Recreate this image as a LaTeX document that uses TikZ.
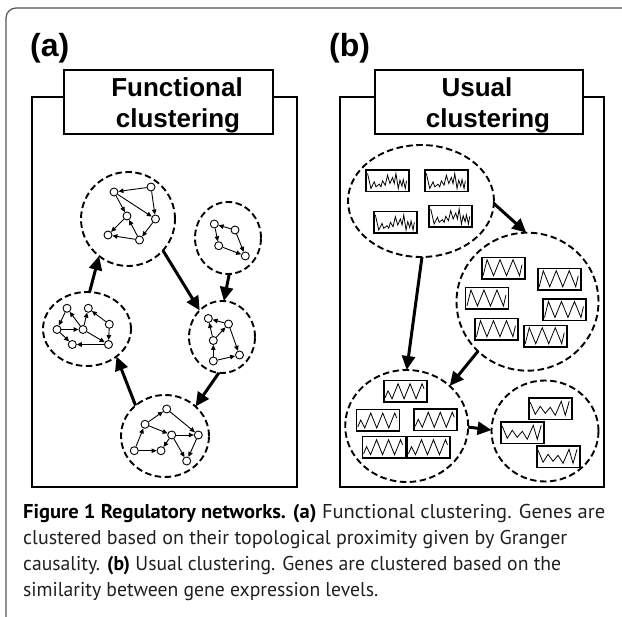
\documentclass[tikz,border=0pt]{standalone}
\usepackage{fontspec}
\usepackage{graphicx}
\usetikzlibrary{arrows.meta,shapes.geometric}
\newfontfamily\hfont{Liberation Sans}
\newfontfamily\capfont{PT Sans}
\newlength\capw
\AtBeginDocument{%
  \settowidth{\capw}{\capfont\fontsize{20pt}{24pt}\selectfont clustered based on their topological proximity given by Granger}%
  \pgfmathsetmacro\capfstmp{20*544/\capw}%
  \xdef\capfs{\capfstmp}%
}
\newcommand\capline[2]{\resizebox{#1}{\height}{#2}}
\definecolor{framegray}{HTML}{555555}
\definecolor{captext}{HTML}{231F20}
\tikzset{
  cl/.style={ellipse, draw, line width=1.9pt, dash pattern=on 6.5pt off 3.5pt, inner sep=0pt, outer sep=0pt},
  gn/.style={circle, draw, fill=white, inner sep=0pt, minimum size=8pt, line width=0.9pt},
  sm/.style={line width=0.9pt, -{Triangle[length=5pt,width=4.5pt]}},
  big/.style={line width=3pt, -{Triangle[length=14pt,width=13pt]}},
  gbox/.style={draw, fill=white, line width=1.5pt, minimum width=43pt, minimum height=21.5pt, inner sep=0pt},
  sig/.style={line width=0.8pt, line join=miter},
  panel/.style={draw, line width=2pt},
  titlebox/.style={draw, fill=white, line width=2pt},
  ttl/.style={anchor=base, inner sep=0pt, font=\hfont\bfseries\fontsize{26pt}{30pt}\selectfont},
  lbl/.style={anchor=base west, inner sep=0pt, font=\hfont\bfseries\fontsize{32pt}{36pt}\selectfont},
  captxt/.style={anchor=base west, inner sep=0pt, text=captext, font=\capfont\fontsize{\capfs pt}{\capfs pt}\selectfont},
  noisy/.pic={\draw[sig] (2.3,4)--(5.7,19)--(9,12.3)--(10.7,17.3)--(14,14.7)--(15.7,17.3)--(17.3,11.3)--(20,15.7)--(22.3,5.7)--(24.7,14)--(27.3,8)--(29,14)--(30.7,4)--(33,19)--(34.7,10.7)--(36.7,16.7)--(38,10)--(40,19)--(41.3,11.3);},
  zigb/.pic={\draw[sig] (2,19)--(6,3)--(12.5,19)--(19,3)--(25.5,19)--(32,3)--(38.5,19)--(41,8);},
  zigc/.pic={\draw[sig] (2,18)--(5,11)--(9,19)--(15,4)--(21,19)--(27,4)--(33,19)--(39,4)--(41,9);},
  zigd/.pic={\draw[sig] (2,5)--(7,17)--(12,9)--(17,16)--(22,10)--(27,18)--(33,4)--(37,18)--(41,4);}
}
\begin{document}
\begin{tikzpicture}[x=1pt,y=-1pt]
\useasboundingbox (0,0) rectangle (622,617);
\fill[white] (0,0) rectangle (622,617);
% outer frame
\draw[framegray, line width=1.2pt, rounded corners=10pt] (6,640) -- (6,8) -- (640,8);

% ---------- panel (a) ----------
\node[lbl] (la) at (30,56.7) {(a)};
\draw[panel] (32,97) rectangle (297,487);
\draw[titlebox] (64,70) rectangle (273,134);
\node[ttl] (ta1) at (177,96.7) {Functional};
\node[ttl] (ta2) at (178,127.3) {clustering};

% clusters
\node[cl, minimum width=94pt, minimum height=94pt] (A1) at (128,219) {};
\node[cl, minimum width=66pt, minimum height=72pt] (A2) at (228,238) {};
\node[cl, minimum width=66pt, minimum height=72pt] (A3) at (222,337) {};
\node[cl, minimum width=88pt, minimum height=74pt] (A4) at (87,329) {};
\node[cl, minimum width=88pt, minimum height=82pt] (A5) at (165,436) {};

% A1 graph
\node[gn] (n1) at (114,192) {};
\node[gn] (n2) at (151,187) {};
\node[gn] (n3) at (155.5,219) {};
\node[gn] (n4) at (127,216) {};
\node[gn] (n5) at (108,235) {};
\node[gn] (n6) at (139.5,240) {};
\draw[sm] (n2) -- (n1);
\draw[sm] (n2) -- (n3);
\draw[sm] (n1) -- (n3);
\draw[sm] (n1) -- (n4);
\draw[sm] (n4) -- (n5);
\draw[sm] (n6) -- (n5);
\draw[sm] (n6) -- (n4);
\draw[sm] (n3) -- (n6);

% A2 graph
\node[gn] (m1) at (214.3,224) {};
\node[gn] (m2) at (235,230) {};
\node[gn] (m3) at (218.7,245.7) {};
\node[gn] (m4) at (245.3,256) {};
\draw[sm] (m2) -- (m1);
\draw[sm] (m1) -- (m3);
\draw[sm] (m3) -- (m4);
\draw[sm] (m2) -- (m4);

% A3 graph
\node[gn] (p1) at (208.3,318.5) {};
\node[gn] (p2) at (228.5,324) {};
\node[gn] (p3) at (213.3,340.5) {};
\node[gn] (p4) at (239.5,355) {};
\node[gn] (p5) at (213.3,361) {};
\draw[sm] (p2) -- (p1);
\draw[sm] (p3) -- (p1);
\draw[sm] (p3) -- (p2);
\draw[sm] (p5) -- (p3);
\draw[sm] (p5) -- (p4);
\draw[sm] (p2) -- (p4);

% A4 graph
\node[gn] (q1) at (67,308.3) {};
\node[gn] (q2) at (88.3,308.3) {};
\node[gn] (q3) at (57,329.5) {};
\node[gn] (q4) at (83,329.5) {};
\node[gn] (q5) at (109.3,324.3) {};
\node[gn] (q6) at (72.3,344.5) {};
\node[gn] (q7) at (108.5,344.5) {};
\draw[sm] (q1) -- (q3);
\draw[sm] (q3) -- (q4);
\draw[sm] (q4) -- (q1);
\draw[sm] (q4) -- (q2);
\draw[sm] (q5) -- (q2);
\draw[sm] (q5) -- (q7);
\draw[sm] (q4) -- (q7);
\draw[sm] (q3) -- (q6);
\draw[sm] (q7) -- (q6);

% A5 graph
\node[gn] (r1) at (166.7,409) {};
\node[gn] (r2) at (145,424.3) {};
\node[gn] (r3) at (171.7,435) {};
\node[gn] (r4) at (198.3,435) {};
\node[gn] (r5) at (134.3,450.7) {};
\node[gn] (r6) at (161,450.7) {};
\node[gn] (r7) at (186.7,461) {};
\draw[sm] (r2) -- (r1);
\draw[sm] (r1) -- (r4);
\draw[sm] (r2) -- (r3);
\draw[sm] (r5) -- (r2);
\draw[sm] (r5) -- (r6);
\draw[sm] (r3) -- (r6);
\draw[sm] (r3) -- (r4);
\draw[sm] (r3) -- (r7);
\draw[sm] (r4) -- (r7);

% big arrows (a)
\draw[big] (A4.86) -- (A1.232);
\draw[big] (A1.318) -- (A3.130);
\draw[big] (A2.272) -- (A3.87);
\draw[big] (A3.265) -- (A5.44);
\draw[big] (A5.134) -- (A4.317);

% ---------- panel (b) ----------
\node[lbl] (lb) at (329,56.7) {(b)};
\draw[panel] (340,97) rectangle (604,487);
\draw[titlebox] (375,70) rectangle (583,134);
\node[ttl] (tb1) at (477,96.7) {Usual};
\node[ttl] (tb2) at (488,127.3) {clustering};

\node[cl, minimum width=146pt, minimum height=112pt] (B1) at (421,201) {};
\node[cl, minimum width=142pt, minimum height=138pt] (B2) at (527.5,301.7) {};
\node[cl, minimum width=123pt, minimum height=112pt] (B3) at (406.7,426) {};
\node[cl, minimum width=107pt, minimum height=101pt] (B4) at (545,431) {};

% B1 boxes
\node[gbox] (b1) at (387.5,181) {};
\node[gbox] (b2) at (446.3,181) {};
\node[gbox] (b3) at (395.3,222.5) {};
\node[gbox] (b4) at (450.7,216.5) {};
\foreach \b in {b1,b2,b3,b4} {\pic at (\b.north west) {noisy};}

% B2 boxes
\node[gbox] (c1) at (503.3,268.2) {};
\node[gbox] (c2) at (559.5,279.2) {};
\node[gbox] (c3) at (487.2,298.5) {};
\node[gbox] (c4) at (564.7,310) {};
\node[gbox] (c5) at (496.7,329.2) {};
\node[gbox] (c6) at (545.5,336.2) {};
\foreach \b in {c1,c2,c3,c4,c5,c6} {\pic at (\b.north west) {zigb};}

% B3 boxes
\node[gbox] (d1) at (405.3,391.3) {};
\node[gbox] (d2) at (378,420.5) {};
\node[gbox] (d3) at (435.5,419.8) {};
\node[gbox] (d4) at (383.8,447.2) {};
\node[gbox] (d5) at (428.7,447.2) {};
\foreach \b in {d1,d2,d3,d4,d5} {\pic at (\b.north west) {zigc};}

% B4 boxes
\node[gbox] (e1) at (550.5,408.8) {};
\node[gbox] (e2) at (522.5,432.8) {};
\node[gbox] (e3) at (558.3,456.8) {};
\foreach \b in {e1,e2,e3} {\pic at (\b.north west) {zigd};}

% big arrows (b)
\draw[big] (B1.358) -- (B2.91);
\draw[big] (B1.271) -- (B3.90);
\draw[big] (B2.225) -- (B3.43);
\draw[big] (B3.359) -- (B4.179);

% ---------- caption ----------
\node[captxt] (cap1) at (23,519) {\capline{582pt}{\textbf{\color{black}Figure 1 Regulatory networks. (a)} Functional clustering. Genes are}};
\node[captxt] (cap2) at (23,545) {\capline{544pt}{clustered based on their topological proximity given by Granger}};
\node[captxt] (cap3) at (23,571) {\capline{538pt}{causality. \textbf{\color{black}(b)} Usual clustering. Genes are clustered based on the}};
\node[captxt] (cap4) at (23,597) {\capline{355pt}{similarity between gene expression levels.}};
\end{tikzpicture}
\end{document}
